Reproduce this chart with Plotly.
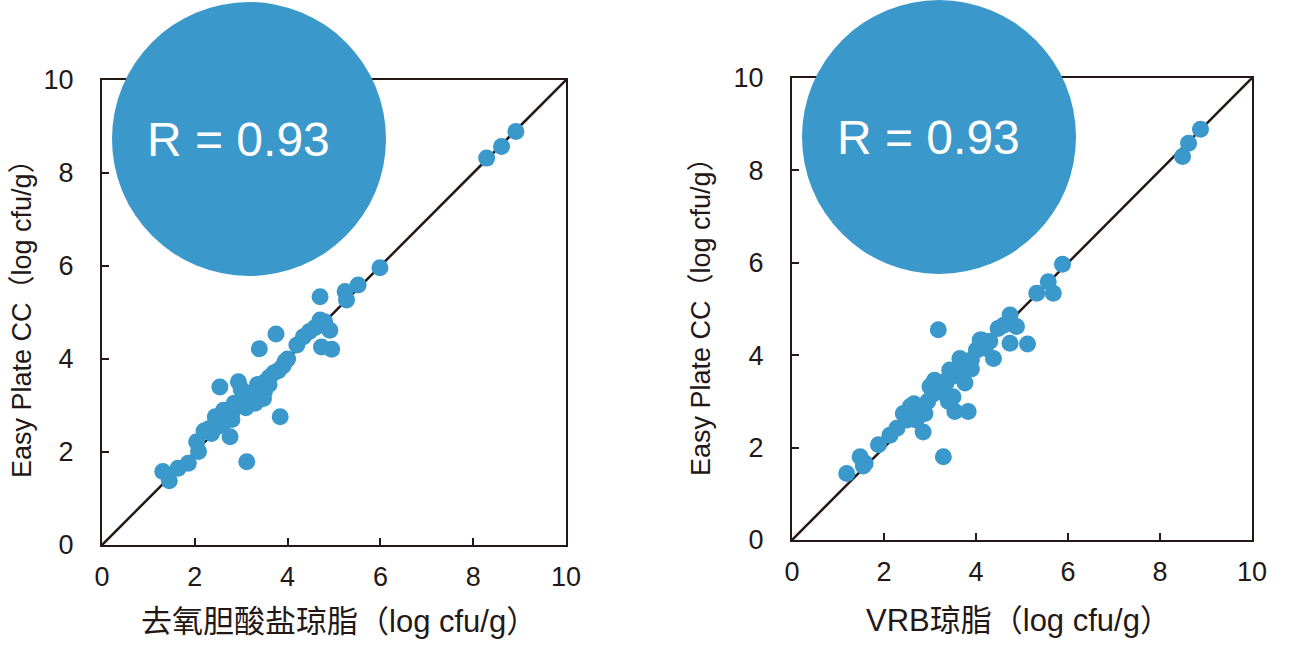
import plotly.graph_objects as go

# Left panel: deoxycholate agar vs Easy Plate CC
left_x = [1.31, 1.45, 1.64, 1.86, 2.04, 2.08, 3.12, 2.36, 2.44, 2.76, 2.54, 2.94, 3.84, 3.39, 3.75,
          3.23, 3.48, 2.2, 2.3, 2.5, 2.6, 2.7, 2.8, 2.9, 3.0, 3.1, 3.2, 3.3, 3.4, 3.5, 3.6, 3.7, 3.8,
          3.9, 3.95, 4.0, 2.62, 2.85, 3.05, 3.35, 3.55,
          3.3, 3.5, 3.1, 2.6, 2.8, 3.6, 3.0,
          4.2, 4.34, 4.47, 4.70, 4.91, 4.73, 4.95, 4.70, 5.24, 5.27, 5.52, 5.99, 4.8, 4.6,
          8.29, 8.61, 8.92]
left_y = [1.58, 1.38, 1.65, 1.76, 2.22, 2.01, 1.79, 2.40, 2.76, 2.33, 3.40, 3.51, 2.76, 4.22, 4.54,
          3.19, 3.15, 2.45, 2.5, 2.55, 2.8, 2.9, 2.85, 3.0, 3.1, 3.2, 3.25, 3.3, 3.4, 3.5, 3.6, 3.7, 3.75,
          3.85, 3.95, 4.0, 2.9, 3.05, 3.3, 3.45, 3.5,
          3.05, 3.3, 2.95, 2.6, 2.7, 3.45, 3.35,
          4.30, 4.48, 4.59, 4.84, 4.62, 4.26, 4.21, 5.34, 5.45, 5.27, 5.59, 5.96, 4.8, 4.68,
          8.32, 8.57, 8.89]

# Right panel: VRB agar vs Easy Plate CC
right_x = [1.19, 1.48, 1.59, 1.88, 2.13, 2.28, 2.42, 2.57, 2.85, 2.89, 3.0, 3.1, 3.29, 3.18, 3.29,
           3.54, 3.83, 3.43, 3.65, 3.76, 4.01, 4.12, 4.38, 4.48, 4.74, 4.88, 4.74, 5.12, 5.32,
           5.57, 5.68, 5.88, 2.5, 2.7, 2.95, 3.05, 3.2, 3.35, 3.5, 3.6, 3.75, 3.9, 4.2, 4.3, 4.6,
           1.55, 2.65, 3.15, 3.4, 3.07, 3.5, 3.3, 3.9, 2.7, 3.4, 4.09,
           8.49, 8.62, 8.88]
right_y = [1.44, 1.80, 1.66, 2.06, 2.27, 2.42, 2.74, 2.89, 2.34, 2.74, 3.32, 3.46, 3.18, 4.55, 1.80,
           2.78, 2.78, 3.68, 3.93, 3.40, 4.11, 4.33, 3.93, 4.58, 4.87, 4.62, 4.26, 4.24, 5.34,
           5.59, 5.34, 5.97, 2.6, 2.8, 3.0, 3.15, 3.3, 3.4, 3.55, 3.6, 3.8, 3.9, 4.15, 4.3, 4.65,
           1.6, 2.95, 3.4, 3.5, 3.40, 3.1, 3.3, 3.7, 2.6, 3.0, 4.33,
           8.30, 8.59, 8.89]

line_xy = [0, 10]
tick_vals = [0, 2, 4, 6, 8, 10]
r_label = "R = 0.93"
x_titles = ["去氧胆酸盐琼脂（log cfu/g）", "VRB琼脂（log cfu/g）"]
y_title = "Easy Plate CC（log cfu/g）"

DARK = "#231815"
BLUE = "#3a98cb"
W, H = 1290, 647
LATIN = "Liberation Sans, Arial"
MIXED = "Liberation Sans, Noto Sans CJK SC"

fig = go.Figure()

panels = [
    dict(x=left_x, y=left_y, xd=(102, 566), yd=(80, 545), ax="", circ=(249, 139), txt=(238, 140),
         xt=(339, 621), yt=(22, 312)),
    dict(x=right_x, y=right_y, xd=(792, 1252), yd=(78, 540), ax="2", circ=(939, 137), txt=(928, 137),
         xt=(1018, 620), yt=(701, 310)),
]

annotations = []
shapes = []
for i, p in enumerate(panels):
    xa = "x" + p["ax"]
    ya = "y" + p["ax"]
    fig.add_trace(go.Scatter(x=line_xy, y=line_xy, mode="lines", line=dict(color=DARK, width=2.5),
                             xaxis=xa, yaxis=ya, showlegend=False, hoverinfo="skip"))
    fig.add_trace(go.Scatter(x=p["x"], y=p["y"], mode="markers",
                             marker=dict(color=BLUE, size=17, line=dict(width=0)),
                             xaxis=xa, yaxis=ya, showlegend=False))
    axis_common = dict(range=[0, 10], tickvals=tick_vals, ticks="inside", ticklen=7, tickwidth=2,
                       tickcolor=DARK, showline=True, linewidth=2, linecolor=DARK, mirror=True,
                       showgrid=False, zeroline=False, automargin=False,
                       tickfont=dict(family=LATIN, size=27, color=DARK))
    xkey = "xaxis" + p["ax"]
    ykey = "yaxis" + p["ax"]
    fig.layout[xkey] = dict(axis_common, domain=[p["xd"][0] / W, p["xd"][1] / W],
                            anchor=ya, ticklabelstandoff=7)
    fig.layout[ykey] = dict(axis_common, domain=[1 - p["yd"][1] / H, 1 - p["yd"][0] / H],
                            anchor=xa, ticklabelstandoff=21)
    cx, cy = p["circ"]
    r = 137
    shapes.append(dict(type="circle", xref="paper", yref="paper",
                       x0=(cx - r) / W, x1=(cx + r) / W, y0=1 - (cy + r) / H, y1=1 - (cy - r) / H,
                       fillcolor=BLUE, line=dict(width=0), layer="above"))
    annotations.append(dict(text=r_label, x=p["txt"][0] / W, y=1 - p["txt"][1] / H, xref="paper",
                            yref="paper", showarrow=False, xanchor="center", yanchor="middle",
                            font=dict(family=LATIN, size=48, color="white")))
    annotations.append(dict(text=x_titles[i], x=p["xt"][0] / W, y=1 - p["xt"][1] / H, xref="paper",
                            yref="paper", showarrow=False, xanchor="center", yanchor="middle",
                            font=dict(family=MIXED, size=31, color=DARK)))
    annotations.append(dict(text=y_title, x=p["yt"][0] / W, y=1 - p["yt"][1] / H, xref="paper",
                            yref="paper", showarrow=False, xanchor="center", yanchor="middle",
                            textangle=-90,
                            font=dict(family=MIXED, size=27, color=DARK)))

fig.update_layout(template="none", width=W, height=H, margin=dict(l=0, r=0, t=0, b=0, pad=0),
                  plot_bgcolor="white", paper_bgcolor="white", shapes=shapes,
                  annotations=annotations, showlegend=False)

fig.write_html("out.html", config={"displayModeBar": False},
               post_script="document.body.style.margin='0';")
